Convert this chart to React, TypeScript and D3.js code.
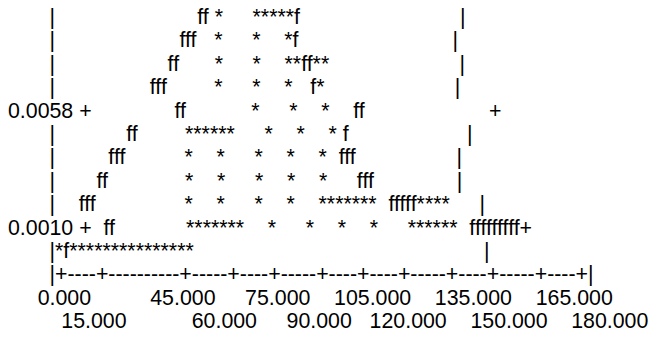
import React, { useRef, useEffect } from 'react';
import * as d3 from 'd3';

// density axis ticks and x axis ticks
const yTickValues = [0.0058, 0.001];
const xTickValues = [0, 15, 45, 60, 75, 90, 105, 120, 135, 150, 165, 180];

// histogram ('*') and density curve ('f'), one entry per text row.
// numbers are runs of blanks, strings are the characters drawn
const plotRows: (number | string)[][] = [
  [24, 'ff', 1, '*', 5, '*****f'],
  [21, 'fff', 3, '*', 5, '*', 4, '*f'],
  [19, 'ff', 6, '*', 5, '*', 4, '**ff**'],
  [16, 'fff', 8, '*', 5, '*', 4, '*', 3, 'f*'],
  [14, 'ff', 11, '*', 5, '*', 4, '*', 4, 'ff'],
  [12, 'ff', 8, '******', 5, '*', 4, '*', 4, '*', 1, 'f'],
  [9, 'fff', 10, '*', 4, '*', 5, '*', 4, '*', 4, '*', 2, 'fff'],
  [7, 'ff', 13, '*', 4, '*', 5, '*', 4, '*', 4, '*', 5, 'fff'],
  [4, 'fff', 15, '*', 4, '*', 5, '*', 4, '*', 4, '*******', 2, 'fffff****'],
  [2, 'ff', 12, '*******', 4, '*', 5, '*', 4, '*', 4, '*', 5, '******', 2, 'fffffffff'],
  ['*f***************'],
];

const LEFT = 7;   // column of the left frame
const RIGHT = 74; // column of the right frame
const WIDTH = RIGHT - LEFT - 1;

const buildLines = () => {
  const yRow = d3.scaleLinear().domain([yTickValues[0], yTickValues[1]]).range([4, 9]);
  const xCol = d3.scaleLinear().domain([0, 180]).range([LEFT + 1, RIGHT - 1]);
  const fmtY = d3.format('.4f');
  const fmtX = d3.format('.3f');

  const labelled: Record<number, string> = {};
  yTickValues.forEach(v => { labelled[Math.round(yRow(v))] = fmtY(v); });

  const lines = plotRows.map((segs, r) => {
    const body = segs.map(s => typeof s === 'number' ? ' '.repeat(s) : s).join('').padEnd(WIDTH, ' ');
    const lab = labelled[r];
    return lab ? (lab + ' ').padEnd(LEFT, ' ') + '+' + body + '+' : ' '.repeat(LEFT) + '|' + body + '|';
  });

  const tickCols = xTickValues.map(v => Math.round(xCol(v)));
  let axis = ' '.repeat(LEFT) + '|';
  for (let c = LEFT + 1; c < RIGHT; c++) axis += tickCols.includes(c) ? '+' : '-';
  lines.push(axis + '|');

  [0, 1].forEach(k => {
    const chars = Array(RIGHT + 2).fill(' ');
    xTickValues.forEach((v, i) => {
      if (i % 2 !== k) return;
      const t = fmtX(v);
      const start = tickCols[i] + 2 - t.length;
      for (let j = 0; j < t.length; j++) chars[start + j] = t[j];
    });
    lines.push(chars.join('').replace(/\s+$/, ''));
  });
  return lines;
};

const AsciiHistogram = () => {
  const svgRef = useRef<SVGSVGElement>(null);

  useEffect(() => {
    const svg = d3.select(svgRef.current);
    svg.selectAll('*').remove();
    const lines = buildLines();
    const y = d3.scaleLinear().domain([0, lines.length - 1]).range([24, 24 + (lines.length - 1) * 23.4]);

    svg.selectAll('text')
      .data(lines)
      .enter().append('text')
      .attr('x', 8)
      .attr('y', (d, i) => y(i))
      .attr('xml:space', 'preserve')
      .style('white-space', 'pre')
      .style('font-family', '"Liberation Sans", Arial, sans-serif')
      .style('font-size', '21.33px')
      .attr('fill', '#000')
      .text(d => d);
  }, []);

  return (
    <svg ref={svgRef} width={649} height={353}
      style={{ position: 'absolute', left: 0, top: 0, background: '#fff' }} />
  );
};

export default function App() {
  return <AsciiHistogram />;
}
